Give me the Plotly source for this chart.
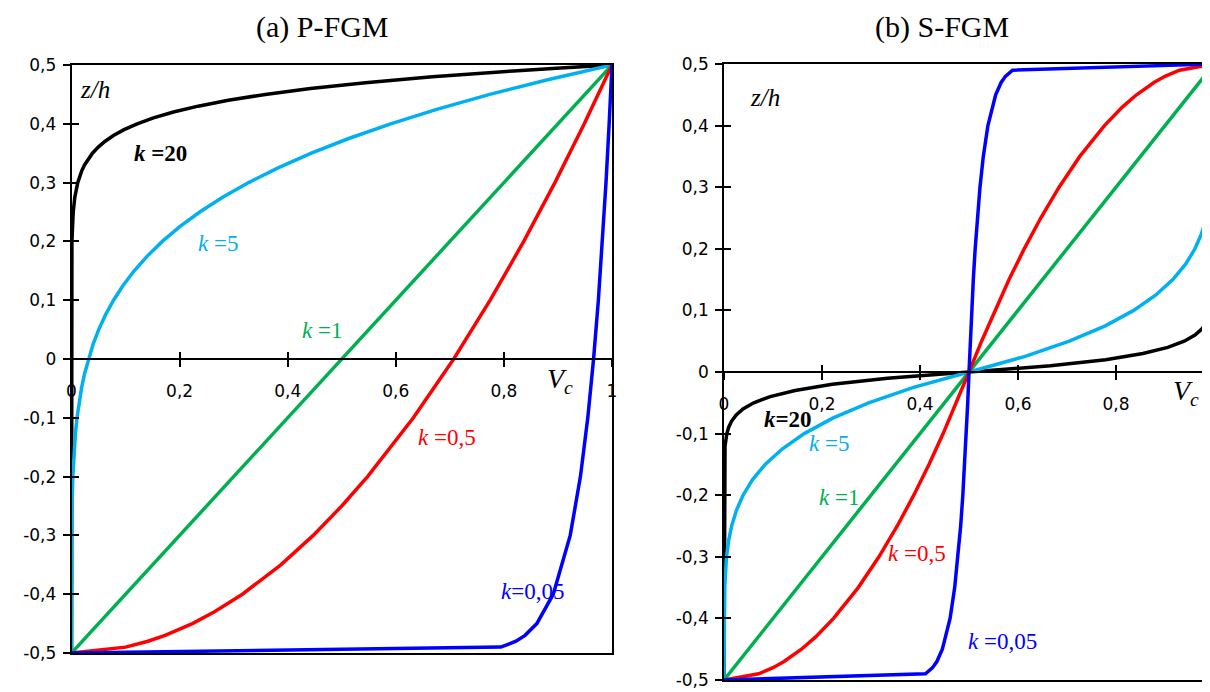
import plotly.graph_objects as go

# ---------------- data: (a) P-FGM ----------------
p_k20_z = [-0.5, 0.1, 0.15, 0.2, 0.25, 0.275, 0.3, 0.31, 0.32, 0.33, 0.34, 0.35, 0.36, 0.37, 0.38, 0.39, 0.4,
           0.41, 0.42, 0.43, 0.44, 0.45, 0.46, 0.47, 0.48, 0.485, 0.49, 0.495, 0.5]
p_k20_v = [0.0, 0.00004, 0.00018, 0.0008, 0.0032, 0.0061, 0.0115, 0.0148, 0.0189, 0.0241, 0.0306, 0.0388, 0.0490,
           0.0617, 0.0776, 0.0972, 0.1216, 0.1516, 0.1887, 0.2342, 0.2901, 0.3585, 0.4420, 0.5438, 0.6676, 0.7391,
           0.8179, 0.9046, 1.0]

p_k5_z = [-0.5, -0.4, -0.3, -0.25, -0.2, -0.175, -0.15, -0.125, -0.1, -0.075, -0.05, -0.025, 0.0, 0.025, 0.05,
          0.075, 0.1, 0.125, 0.15, 0.175, 0.2, 0.225, 0.25, 0.275, 0.3, 0.325, 0.35, 0.375, 0.4, 0.425, 0.45,
          0.475, 0.5]
p_k5_v = [0.0, 0.00001, 0.00032, 0.00098, 0.00243, 0.00363, 0.00525, 0.00742, 0.01024, 0.01387, 0.01845, 0.02418,
          0.03125, 0.03988, 0.0503, 0.06286, 0.07776, 0.09537, 0.1160, 0.14013, 0.16807, 0.2003, 0.2373, 0.27958,
          0.32768, 0.38218, 0.4437, 0.51291, 0.59049, 0.67719, 0.7738, 0.8811, 1.0]

p_k1_z = [-0.5, 0.5]
p_k1_v = [0.0, 1.0]

p_k05_z = [-0.5, -0.49, -0.48, -0.47, -0.45, -0.43, -0.4, -0.35, -0.3, -0.25, -0.2, -0.1, 0.0, 0.1, 0.2, 0.3, 0.4, 0.5]
p_k05_v = [0.0, 0.1, 0.1414, 0.1732, 0.2236, 0.2646, 0.3162, 0.3873, 0.4472, 0.5, 0.5477, 0.6325, 0.7071, 0.7746,
           0.8367, 0.8944, 0.9487, 1.0]

p_k005_z = [-0.5, -0.49, -0.48, -0.47, -0.45, -0.4, -0.3, -0.2, -0.1, 0.0, 0.1, 0.2, 0.3, 0.4, 0.5]
p_k005_v = [0.0, 0.7943, 0.8223, 0.8392, 0.8609, 0.8913, 0.9227, 0.9416, 0.9552, 0.9659, 0.9748, 0.9823, 0.9889,
            0.9947, 1.0]

# ---------------- data: (b) S-FGM ----------------
s_k20_z = [-0.5, -0.15, -0.12, -0.1, -0.09, -0.08, -0.07, -0.06, -0.05, -0.04, -0.03, -0.02, -0.01, 0.0,
           0.01, 0.02, 0.03, 0.04, 0.05, 0.06, 0.07, 0.08, 0.09, 0.1, 0.12, 0.15, 0.5]
s_k20_v = [0.0, 0.0004, 0.0021, 0.0058, 0.0094, 0.0153, 0.0245, 0.0388, 0.0608, 0.0943, 0.1451, 0.2210, 0.3338, 0.5,
           0.6662, 0.7790, 0.8549, 0.9057, 0.9392, 0.9612, 0.9755, 0.9847, 0.9906, 0.9942, 0.9979, 0.9996, 1.0]

s_k5_z = [-0.5, -0.4, -0.35, -0.3, -0.275, -0.25, -0.225, -0.2, -0.175, -0.15, -0.125, -0.1, -0.075, -0.05, -0.025, 0.0,
          0.025, 0.05, 0.075, 0.1, 0.125, 0.15, 0.175, 0.2, 0.225, 0.25, 0.275, 0.3, 0.35, 0.4, 0.5]
s_k5_v = [0.0, 0.00016, 0.0012, 0.0051, 0.0092, 0.0156, 0.0252, 0.0389, 0.0580, 0.0840, 0.1187, 0.1638, 0.2219,
          0.2952, 0.3869, 0.5,
          0.6131, 0.7048, 0.7781, 0.8362, 0.8813, 0.9160, 0.9420, 0.9611, 0.9748, 0.9844, 0.9908, 0.9949, 0.9988,
          0.9998, 1.0]

s_k1_z = [-0.5, 0.5]
s_k1_v = [0.0, 1.0]

s_k05_z = [-0.5, -0.49, -0.48, -0.47, -0.45, -0.43, -0.4, -0.35, -0.3, -0.25, -0.2, -0.15, -0.1, -0.05, 0.0,
           0.05, 0.1, 0.15, 0.2, 0.25, 0.3, 0.35, 0.4, 0.43, 0.45, 0.47, 0.48, 0.49, 0.5]
s_k05_v = [0.0, 0.0707, 0.1, 0.1225, 0.1581, 0.1871, 0.2236, 0.2739, 0.3162, 0.3536, 0.3873, 0.4183, 0.4472, 0.4743, 0.5,
           0.5257, 0.5528, 0.5817, 0.6127, 0.6464, 0.6838, 0.7261, 0.7764, 0.8129, 0.8419, 0.8775, 0.9, 0.9293, 1.0]

s_k005_z = [-0.5, -0.49, -0.48, -0.47, -0.45, -0.4, -0.35, -0.3, -0.25, -0.2, -0.15, -0.1, -0.05, 0.0,
            0.05, 0.1, 0.15, 0.2, 0.25, 0.3, 0.35, 0.4, 0.45, 0.47, 0.48, 0.49, 0.5]
s_k005_v = [0.0, 0.4112, 0.4257, 0.4344, 0.4456, 0.4614, 0.4708, 0.4776, 0.4830, 0.4874, 0.4912, 0.4944, 0.4974, 0.5,
            0.5026, 0.5056, 0.5088, 0.5126, 0.5170, 0.5224, 0.5292, 0.5386, 0.5544, 0.5656, 0.5743, 0.5888, 1.0]

# ---------------- ticks / labels ----------------
x_tickvals = [0, 0.2, 0.4, 0.6, 0.8, 1.0]
x_ticktext = ["0", "0,2", "0,4", "0,6", "0,8", "1"]
y_tickvals = [0.5, 0.4, 0.3, 0.2, 0.1, 0.0, -0.1, -0.2, -0.3, -0.4, -0.5]
y_ticktext = ["0,5", "0,4", "0,3", "0,2", "0,1", "0", "-0,1", "-0,2", "-0,3", "-0,4", "-0,5"]

colors = {"k20": "#000000", "k5": "#00B0F0", "k1": "#00B050", "k05": "#FF0000", "k005": "#0000FF"}
LW = 3.5

fig = go.Figure()

left_series = [("k20", p_k20_v, p_k20_z), ("k5", p_k5_v, p_k5_z), ("k1", p_k1_v, p_k1_z),
               ("k05", p_k05_v, p_k05_z), ("k005", p_k005_v, p_k005_z)]
right_series = [("k20", s_k20_v, s_k20_z), ("k5", s_k5_v, s_k5_z), ("k1", s_k1_v, s_k1_z),
                ("k05", s_k05_v, s_k05_z), ("k005", s_k005_v, s_k005_z)]

for key, v, z in left_series:
    fig.add_trace(go.Scatter(x=v, y=z, mode="lines", line=dict(color=colors[key], width=LW),
                             xaxis="x", yaxis="y", showlegend=False, hoverinfo="skip"))
for key, v, z in right_series:
    fig.add_trace(go.Scatter(x=v, y=z, mode="lines", line=dict(color=colors[key], width=LW),
                             xaxis="x2", yaxis="y2", showlegend=False, hoverinfo="skip"))

# dummy traces so overlay axes get drawn
for xa, ya in [("x3", "y"), ("x5", "y"), ("x", "y3"), ("x4", "y2"), ("x6", "y2"), ("x2", "y4")]:
    fig.add_trace(go.Scatter(x=[None], y=[None], mode="lines", xaxis=xa, yaxis=ya,
                             showlegend=False, hoverinfo="skip"))

# page body has an 8px margin: figure pixel = screen pixel - OFF
OFF = 8
SW, SH = 1210, 692
W, H = SW - OFF, SH - OFF

# screen-pixel geometry of the reference
L_x0, L_x1, L_ytop, L_ybot = 71.5, 612.0, 65.0, 653.0
R_x0, R_xpx_per_unit, R_ytop, R_ybot = 724.0, 490.0, 64.0, 680.0
R_xmax = (SW - R_x0) / R_xpx_per_unit

def px(x):
    return (x - OFF) / W

def py(y):
    return 1 - (y - OFF) / H

L_dom_x = [px(L_x0), px(L_x1)]
L_dom_y = [py(L_ybot), py(L_ytop)]
R_dom_x = [px(R_x0), 1.0]
R_dom_y = [py(R_ybot), py(R_ytop)]
L_zero = py((L_ytop + L_ybot) / 2)
R_zero = py((R_ytop + R_ybot) / 2)

tickfont = dict(family="DejaVu Sans", size=17, color="#000000")
AXC = "#000000"
ALW = 1.6

frame_x = dict(showline=True, mirror=True, linecolor=AXC, linewidth=ALW, ticks="",
               showticklabels=False, showgrid=False, zeroline=False, automargin=False)
frame_y = dict(showline=True, mirror=True, linecolor=AXC, linewidth=ALW, ticks="outside",
               ticklen=7, tickwidth=ALW, tickcolor=AXC, tickvals=y_tickvals, ticktext=y_ticktext,
               tickfont=tickfont, ticklabelstandoff=3, showgrid=False, zeroline=False, automargin=False)
inner_y = dict(showline=False, ticks="inside", ticklen=7, tickwidth=ALW, tickcolor=AXC,
               tickvals=y_tickvals, showticklabels=False, showgrid=False, zeroline=False, side="left",
               automargin=False)
zero_x_out = dict(showline=True, linecolor=AXC, linewidth=ALW, ticks="outside", ticklen=7,
                  tickwidth=ALW, tickcolor=AXC, tickvals=x_tickvals, ticktext=x_ticktext,
                  tickfont=tickfont, ticklabelstandoff=10, showgrid=False, zeroline=False, anchor="free",
                  automargin=False)
zero_x_in = dict(showline=False, ticks="inside", ticklen=7, tickwidth=ALW, tickcolor=AXC,
                 tickvals=x_tickvals, showticklabels=False, showgrid=False, zeroline=False, anchor="free",
                 automargin=False)

fig.update_layout(
    template="none",
    width=W, height=H,
    margin=dict(l=0, r=0, t=0, b=0, autoexpand=False),
    paper_bgcolor="white", plot_bgcolor="white",
    showlegend=False,
    xaxis=dict(domain=L_dom_x, range=[0, 1], anchor="y", **frame_x),
    yaxis=dict(domain=L_dom_y, range=[-0.5, 0.5], anchor="x", **frame_y),
    xaxis3=dict(overlaying="x", range=[0, 1], position=L_zero, **zero_x_out),
    xaxis5=dict(overlaying="x", range=[0, 1], position=L_zero, **zero_x_in),
    yaxis3=dict(overlaying="y", range=[-0.5, 0.5], anchor="x", **inner_y),
    xaxis2=dict(domain=R_dom_x, range=[0, R_xmax], anchor="y2", **frame_x),
    yaxis2=dict(domain=R_dom_y, range=[-0.5, 0.5], anchor="x2", **frame_y),
    xaxis4=dict(overlaying="x2", range=[0, R_xmax], position=R_zero, **zero_x_out),
    xaxis6=dict(overlaying="x2", range=[0, R_xmax], position=R_zero, **zero_x_in),
    yaxis4=dict(overlaying="y2", range=[-0.5, 0.5], anchor="x2", **inner_y),
)

serif = "Liberation Serif"
ann = []
def add_ann(text, x, y, xref, yref, color, size=23, yanchor="middle"):
    ann.append(dict(text=text, x=x, y=y, xref=xref, yref=yref, showarrow=False,
                    xanchor="center", yanchor=yanchor,
                    font=dict(family=serif, size=size, color=color)))

# titles (kept inside the page top edge)
add_ann("(a) P-FGM", px(322), 1.0, "paper", "paper", "#000000", size=30, yanchor="top")
add_ann("(b) S-FGM", px(942), 1.0, "paper", "paper", "#000000", size=30, yanchor="top")

# left panel labels
add_ann("<i>z/h</i>", 0.0435, 0.4575, "x", "y", "#000000", size=25)
add_ann("<b><i>k</i> =20</b>", 0.165, 0.35, "x", "y", colors["k20"])
add_ann("<i>k</i> =5", 0.2716, 0.197, "x", "y", colors["k5"])
add_ann("<i>k</i> =1", 0.463, 0.049, "x", "y", colors["k1"])
add_ann("<i>k</i> =0,5", 0.695, -0.134, "x", "y", colors["k05"])
add_ann("<i>k</i>=0,05", 0.852, -0.396, "x", "y", colors["k005"])
add_ann("<i>V<sub>c</sub></i>", 0.904, -0.036, "x", "y", "#000000", size=28)

# right panel labels
add_ann("<i>z/h</i>", 0.084, 0.446, "x2", "y2", "#000000", size=25)
add_ann("<b><i>k</i>=20</b>", 0.131, -0.077, "x2", "y2", colors["k20"])
add_ann("<i>k</i> =5", 0.215, -0.116, "x2", "y2", colors["k5"])
add_ann("<i>k</i> =1", 0.235, -0.203, "x2", "y2", colors["k1"])
add_ann("<i>k</i> =0,5", 0.394, -0.294, "x2", "y2", colors["k05"])
add_ann("<i>k</i> =0,05", 0.569, -0.437, "x2", "y2", colors["k005"])
add_ann("<i>V<sub>c</sub></i>", 0.943, -0.034, "x2", "y2", "#000000", size=28)

fig.update_layout(annotations=ann)

fig.write_html("out.html")
